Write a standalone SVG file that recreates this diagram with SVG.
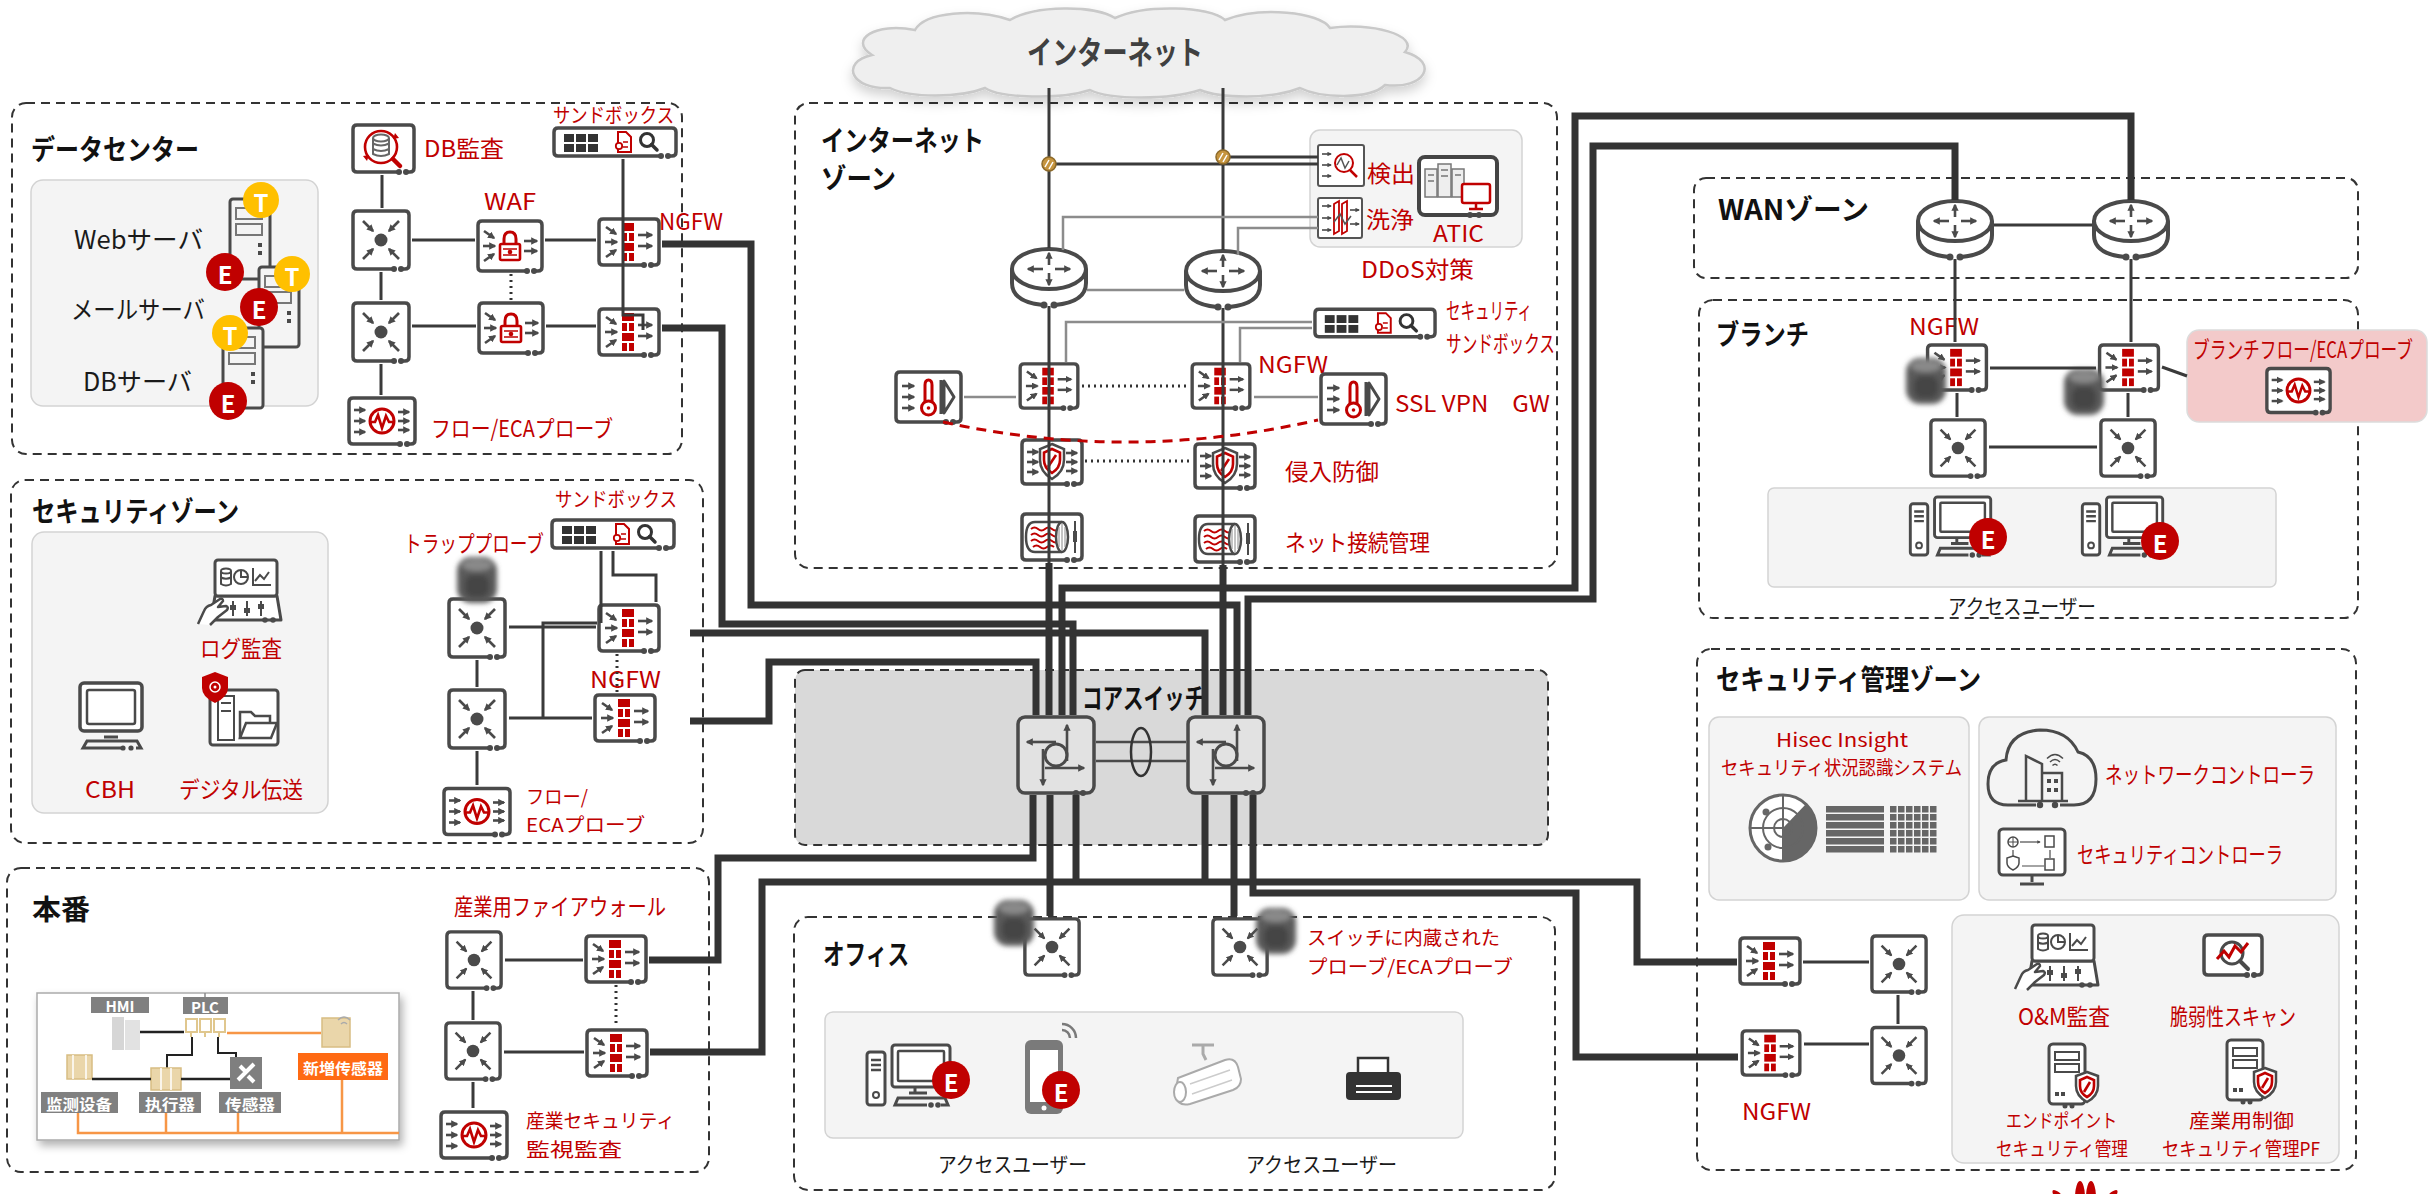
<svg xmlns="http://www.w3.org/2000/svg" width="2429" height="1194" viewBox="0 0 2429 1194">
<style>
text{font-family:'Noto Sans CJK JP','Noto Sans',sans-serif;dominant-baseline:central}
.zone{fill:none;stroke:#333;stroke-width:2;stroke-dasharray:9 6}
.gbox{fill:#f4f4f4;stroke:#d3d3d3;stroke-width:1.5}
.ttl{font-weight:bold;fill:#111;font-size:28px}
.lbl{fill:#c00000;font-size:23px}
.sm{font-size:20px}
.two{font-size:19px}
.blk{fill:#1a1a1a;font-size:25px}
.usr{fill:#1a1a1a;font-size:21px}
.bx{fill:#fff;stroke:#4a4a4a;stroke-width:3.5;stroke-linejoin:round;stroke-linecap:round}
.dt{fill:#4a4a4a}
.arr{fill:none;stroke:#4a4a4a;stroke-width:2.6;marker-end:url(#ah)}
.arrs{fill:none;stroke:#4a4a4a;stroke-width:1.6;marker-end:url(#ah)}
.rl{fill:none;stroke:#c00000;stroke-width:2.6}
.gl{fill:none;stroke:#4a4a4a;stroke-width:2.5}
.thick{fill:none;stroke:#333;stroke-width:7}
.thin{fill:none;stroke:#3a3a3a;stroke-width:3}
.grey{fill:none;stroke:#8c8c8c;stroke-width:2.5}
.dotl{fill:none;stroke:#333;stroke-width:3;stroke-dasharray:2 4}
.tag{fill:#808080}
.tagt{fill:#fff;font-weight:bold;font-size:15px;font-family:'Noto Sans CJK SC','Noto Sans CJK JP',sans-serif}
.or{fill:none;stroke:#f79646;stroke-width:2.5}
.tan{fill:#ead6aa;stroke:#d8bd83;stroke-width:1.5}
</style>
<defs>
  <marker id="ah" viewBox="0 0 10 10" refX="8" refY="5" markerWidth="2.8" markerHeight="2.8" orient="auto"><path d="M0 0 L10 5 L0 10 z" fill="#4a4a4a"/></marker>
  <filter id="blur" x="-60%" y="-60%" width="220%" height="220%"><feGaussianBlur stdDeviation="2.6"/></filter>
  <filter id="shadow" x="-10%" y="-10%" width="125%" height="130%"><feDropShadow dx="3" dy="5" stdDeviation="4" flood-color="#000" flood-opacity="0.3"/></filter>
  <filter id="cloudsh" x="-10%" y="-20%" width="120%" height="160%"><feDropShadow dx="0" dy="6" stdDeviation="6" flood-color="#000" flood-opacity="0.18"/></filter>
  <pattern id="grid" x="1890" y="806" width="8" height="8" patternUnits="userSpaceOnUse"><rect width="6.5" height="6.5" fill="#666"/></pattern>
  <pattern id="bars" x="1826" y="806" width="60" height="8" patternUnits="userSpaceOnUse"><rect width="58" height="6.5" fill="#666"/></pattern>

  <!-- badges -->
  <g id="eb"><circle r="19" fill="#c00000"/><text y="1" text-anchor="middle" font-family="Liberation Sans" font-weight="bold" font-size="24" fill="#fff">E</text></g>
  <g id="tb"><circle r="18" fill="#ffc000"/><text y="1" text-anchor="middle" font-family="Liberation Sans" font-weight="bold" font-size="24" fill="#fff">T</text></g>
  <!-- blurred probe attached to a device -->
  <g id="bp" filter="url(#blur)"><rect x="-20" y="-23" width="40" height="46" rx="14" fill="#5a5a5a"/><ellipse cx="0" cy="-15" rx="15" ry="6" fill="#8a8a8a"/><rect x="-12" y="-5" width="24" height="22" rx="8" fill="#444"/></g>
  <!-- link marker on the internet uplinks -->
  <g id="lk"><circle r="7" fill="#c6953f" stroke="#8d6a2a" stroke-width="1.5"/><path d="M-4 3 L0 -4 M0 5 L4 -2" stroke="#fff" stroke-width="1.5"/></g>

  <!-- aggregation switch -->
  <symbol id="sw" viewBox="0 0 62 64" overflow="visible">
    <path class="bx" d="M42 61 H7 Q3 61 3 57 V7 Q3 3 7 3 H55 Q59 3 59 7 V57 Q59 61 55 61 H52"/>
    <circle cx="44" cy="61" r="3" class="dt"/><circle cx="51" cy="61" r="3" class="dt"/>
    <path class="arr" d="M13 13 L23 23"/><path class="arr" d="M49 13 L39 23"/>
    <path class="arr" d="M13 51 L23 41"/><path class="arr" d="M49 51 L39 41"/>
    <circle cx="31" cy="32" r="6.5" fill="#4a4a4a"/>
  </symbol>
  <!-- next generation firewall -->
  <symbol id="fw" viewBox="0 0 66 52" overflow="visible">
    <path class="bx" d="M46 49 H7 Q3 49 3 45 V7 Q3 3 7 3 H59 Q63 3 63 7 V45 Q63 49 59 49 H56"/>
    <circle cx="48" cy="49" r="3" class="dt"/><circle cx="55" cy="49" r="3" class="dt"/>
    <path class="arr" d="M10 11 L20 18"/><path class="arr" d="M9 26 H21"/><path class="arr" d="M10 41 L20 34"/>
    <g fill="#c00000"><rect x="26" y="7" width="12" height="8"/><rect x="26" y="17" width="5" height="8"/><rect x="33" y="17" width="5" height="8"/><rect x="26" y="27" width="12" height="8"/><rect x="26" y="37" width="5" height="8"/><rect x="33" y="37" width="5" height="8"/></g>
    <path class="arr" d="M42 19 H56"/><path class="arr" d="M42 30 H56"/>
  </symbol>
  <!-- web application firewall -->
  <symbol id="waf" viewBox="0 0 70 56" overflow="visible">
    <path class="bx" d="M50 53 H7 Q3 53 3 49 V7 Q3 3 7 3 H63 Q67 3 67 7 V49 Q67 53 63 53 H60"/>
    <circle cx="52" cy="53" r="3" class="dt"/><circle cx="59" cy="53" r="3" class="dt"/>
    <path class="arr" d="M9 13 L19 20"/><path class="arr" d="M8 28 H20"/><path class="arr" d="M9 43 L19 36"/>
    <path d="M29 27 V21 Q29 14 35 14 Q41 14 41 21 V27" fill="none" stroke="#c00000" stroke-width="3"/>
    <rect x="25" y="26" width="20" height="16" rx="1.5" fill="#fff" stroke="#c00000" stroke-width="2.6"/>
    <path d="M28 31 H42 M28 37 H42" stroke="#c00000" stroke-width="1.5"/><circle cx="35" cy="34" r="2.3" fill="#c00000"/>
    <path class="arr" d="M49 23 H62"/><path class="arr" d="M49 33 H62"/>
  </symbol>
  <!-- flow / ECA probe -->
  <symbol id="probe" viewBox="0 0 72 52" overflow="visible">
    <path class="bx" d="M52 49 H7 Q3 49 3 45 V7 Q3 3 7 3 H65 Q69 3 69 7 V45 Q69 49 65 49 H62"/>
    <circle cx="54" cy="49" r="3" class="dt"/><circle cx="61" cy="49" r="3" class="dt"/>
    <path class="arr" d="M8 15 H19"/><path class="arr" d="M8 26 H19"/><path class="arr" d="M8 37 H19"/>
    <circle cx="36" cy="26" r="12" fill="none" stroke="#c00000" stroke-width="3"/>
    <path d="M25 27 H29 L32 20 L36 33 L40 21 L43 27 H47" class="rl"/>
    <path class="arr" d="M52 17 H63"/><path class="arr" d="M52 26 H63"/><path class="arr" d="M52 35 H63"/>
  </symbol>
  <!-- intrusion prevention -->
  <symbol id="ips" viewBox="0 0 66 50" overflow="visible">
    <path class="bx" d="M46 47 H7 Q3 47 3 43 V7 Q3 3 7 3 H59 Q63 3 63 7 V43 Q63 47 59 47 H56"/>
    <circle cx="48" cy="47" r="3" class="dt"/><circle cx="55" cy="47" r="3" class="dt"/>
    <path class="arr" d="M8 15 H19"/><path class="arr" d="M8 25 H19"/><path class="arr" d="M8 35 H19"/>
    <path d="M33 7 L45 12 V23 Q45 35 33 42 Q21 35 21 23 V12 Z" fill="#fff" stroke="#4a4a4a" stroke-width="2.5"/>
    <path d="M33 12 L41 15.5 V23 Q41 31 33 36 Q25 31 25 23 V15.5 Z" class="rl"/>
    <path d="M29 30 L37 18" class="rl"/>
    <path class="arr" d="M47 16 H58"/><path class="arr" d="M47 25 H58"/><path class="arr" d="M47 34 H58"/>
  </symbol>
  <!-- network access management -->
  <symbol id="nac" viewBox="0 0 66 52" overflow="visible">
    <path class="bx" d="M46 49 H7 Q3 49 3 45 V7 Q3 3 7 3 H59 Q63 3 63 7 V45 Q63 49 59 49 H56"/>
    <circle cx="48" cy="49" r="3" class="dt"/><circle cx="55" cy="49" r="3" class="dt"/>
    <path d="M16 11 H43 M16 41 H43" stroke="#4a4a4a" stroke-width="2.5"/>
    <path d="M16 11 Q7 11 7 26 Q7 41 16 41" fill="none" stroke="#4a4a4a" stroke-width="2.5"/>
    <path d="M12 18 q3.5 -3 7 0 t7 0 t7 0 t7 0 M12 24 q3.5 -3 7 0 t7 0 t7 0 t7 0 M12 30 q3.5 -3 7 0 t7 0 t7 0 t7 0 M14 36 q3.5 -3 7 0 t7 0 t7 0" fill="none" stroke="#c00000" stroke-width="2"/>
    <ellipse cx="43" cy="26" rx="6" ry="15" fill="#fff" stroke="#4a4a4a" stroke-width="2.5"/>
    <path d="M40 16 V36 M43 13 V39 M46 16 V36" stroke="#888" stroke-width="1"/>
    <path d="M56 10 V42" stroke="#4a4a4a" stroke-width="2"/><rect x="54" y="20" width="4" height="11" fill="#4a4a4a"/>
  </symbol>
  <!-- SSL VPN gateway -->
  <symbol id="vpn" viewBox="0 0 71 56" overflow="visible">
    <path class="bx" d="M51 53 H7 Q3 53 3 49 V7 Q3 3 7 3 H64 Q68 3 68 7 V49 Q68 53 64 53 H61"/>
    <circle cx="53" cy="53" r="3" class="dt"/><circle cx="60" cy="53" r="3" class="dt"/>
    <path class="arr" d="M9 17 H21"/><path class="arr" d="M9 28 H21"/><path class="arr" d="M9 39 H21"/>
    <path d="M32 33 V16 Q32 11 35.5 11 Q39 11 39 16 V33" fill="none" stroke="#c00000" stroke-width="3"/>
    <circle cx="35.5" cy="39" r="7" fill="none" stroke="#c00000" stroke-width="3"/><circle cx="35.5" cy="39" r="1.8" fill="#c00000"/>
    <path d="M48 11 V45 M51 12 L61 28 L51 44 Z" fill="none" stroke="#4a4a4a" stroke-width="3" stroke-linejoin="round"/>
  </symbol>
  <!-- sandbox appliance -->
  <symbol id="sb" viewBox="0 0 128 34" overflow="visible">
    <path class="bx" d="M108 31 H7 Q3 31 3 27 V7 Q3 3 7 3 H121 Q125 3 125 7 V27 Q125 31 121 31 H119"/>
    <circle cx="110" cy="31" r="3" class="dt"/><circle cx="117" cy="31" r="3" class="dt"/>
    <g fill="#333"><rect x="13" y="9" width="10" height="8"/><rect x="25" y="9" width="10" height="8"/><rect x="37" y="9" width="10" height="8"/><rect x="13" y="19" width="10" height="8"/><rect x="25" y="19" width="10" height="8"/><rect x="37" y="19" width="10" height="8"/></g>
    <path d="M67 7 H75 L80 12 V27 H67 Z" fill="#fff" stroke="#c00000" stroke-width="2"/>
    <circle cx="68" cy="21" r="3.2" fill="#fff" stroke="#c00000" stroke-width="1.8"/>
    <path d="M72 17 H77 M72 22 H77" stroke="#c00000" stroke-width="1.6"/>
    <circle cx="96" cy="15" r="6.5" fill="none" stroke="#333" stroke-width="3"/>
    <path d="M100.5 19.5 L106 25" stroke="#333" stroke-width="3.5" stroke-linecap="round"/>
  </symbol>
  <!-- database audit -->
  <symbol id="dba" viewBox="0 0 67 53" overflow="visible">
    <path class="bx" d="M47 50 H7 Q3 50 3 46 V7 Q3 3 7 3 H60 Q64 3 64 7 V46 Q64 50 60 50 H57"/>
    <circle cx="49" cy="50" r="3" class="dt"/><circle cx="56" cy="50" r="3" class="dt"/>
    <circle cx="31" cy="25" r="16" fill="none" stroke="#c00000" stroke-width="2.6"/>
    <ellipse cx="31" cy="16" rx="8" ry="3.5" fill="#fff" stroke="#666" stroke-width="2"/>
    <path d="M23 16 V32 Q31 36 39 32 V16 M23 21.5 Q31 25.5 39 21.5 M23 27 Q31 31 39 27" fill="none" stroke="#666" stroke-width="2"/>
    <path d="M43 37 L50 44" stroke="#c00000" stroke-width="4.5" stroke-linecap="round"/>
    <path d="M13 34 l6 -1 l-2 6 z M49 16 l-6 1 l2 -6 z" fill="#c00000"/>
  </symbol>
  <!-- router -->
  <symbol id="rt" viewBox="0 0 78 62" overflow="visible">
    <path d="M2 23 V37 Q2 57 33 59 H45 Q76 57 76 37 V23 Z" fill="#fff"/>
    <path d="M2 23 V37 Q2 56 33 59 M45 59 Q76 56 76 37 V23" fill="none" stroke="#4a4a4a" stroke-width="4"/>
    <ellipse cx="39" cy="23" rx="37" ry="20" fill="#fff" stroke="#4a4a4a" stroke-width="4"/>
    <circle cx="34" cy="59" r="3.5" class="dt"/><circle cx="44" cy="59" r="3.5" class="dt"/>
    <path class="arr" d="M33 23 H18"/><path class="arr" d="M45 23 H60"/>
    <path class="arr" d="M39 19 V7"/><path class="arr" d="M39 27 V39"/>
  </symbol>
  <!-- core switch -->
  <symbol id="core" viewBox="0 0 80 80" overflow="visible">
    <rect x="2" y="2" width="76" height="76" rx="7" fill="#e2e2e2" stroke="#4a4a4a" stroke-width="3.5"/>
    <circle cx="60" cy="78" r="3" class="dt"/><circle cx="67" cy="78" r="3" class="dt"/>
    <circle cx="40" cy="40" r="11" fill="none" stroke="#4a4a4a" stroke-width="3"/>
    <path class="arr" d="M51 46 V10"/><path class="arr" d="M40 27 H11"/>
    <path class="arr" d="M29 53 H68"/><path class="arr" d="M27 34 V70"/>
  </symbol>
  <!-- desktop computer -->
  <symbol id="pc" viewBox="0 0 88 64" overflow="visible">
    <rect x="2" y="9" width="18" height="53" rx="3" fill="#fff" stroke="#4a4a4a" stroke-width="3"/>
    <path d="M6 17 H16 M6 22 H16 M6 27 H16" stroke="#4a4a4a" stroke-width="2.5"/>
    <circle cx="11" cy="52" r="3" fill="none" stroke="#4a4a4a" stroke-width="2"/>
    <rect x="27" y="2" width="58" height="42" rx="3" fill="#fff" stroke="#4a4a4a" stroke-width="3"/>
    <rect x="33" y="8" width="46" height="30" rx="1" fill="none" stroke="#4a4a4a" stroke-width="2.5"/>
    <path d="M50 44 V50 M44 50 H62" stroke="#4a4a4a" stroke-width="3"/>
    <path d="M62 62 H30 L33 55 H80 L83 62 H76" fill="none" stroke="#4a4a4a" stroke-width="3"/>
    <circle cx="66" cy="62" r="2.8" class="dt"/><circle cx="73" cy="62" r="2.8" class="dt"/>
  </symbol>
  <!-- tower server -->
  <symbol id="srv" viewBox="0 0 44 84" overflow="visible">
    <rect x="2" y="2" width="40" height="80" rx="3" fill="#f4f4f4" stroke="#4a4a4a" stroke-width="3"/>
    <rect x="8" y="11" width="26" height="11" fill="none" stroke="#777" stroke-width="2"/>
    <rect x="8" y="27" width="26" height="11" fill="none" stroke="#777" stroke-width="2"/>
    <rect x="30" y="46" width="4" height="4" fill="#4a4a4a"/><rect x="30" y="54" width="4" height="4" fill="#4a4a4a"/>
  </symbol>
  <!-- protected server -->
  <symbol id="esrv" viewBox="0 0 52 66" overflow="visible">
    <rect x="2" y="2" width="36" height="60" rx="4" fill="#fff" stroke="#4a4a4a" stroke-width="3"/>
    <rect x="8" y="10" width="24" height="8" fill="none" stroke="#4a4a4a" stroke-width="2"/>
    <rect x="8" y="22" width="24" height="8" fill="none" stroke="#4a4a4a" stroke-width="2"/>
    <rect x="8" y="50" width="4" height="4" class="dt"/><rect x="14" y="50" width="4" height="4" class="dt"/>
    <path d="M40 30 L51 34 V44 Q51 54 40 60 Q29 54 29 44 V34 Z" fill="#fff" stroke="#4a4a4a" stroke-width="2.5"/>
    <path d="M40 35 L47 38 V44 Q47 51 40 55 Q33 51 33 44 V38 Z" class="rl"/>
    <path d="M37 50 L43 40" class="rl"/>
    <circle cx="18" cy="64" r="2.5" class="dt"/><circle cx="25" cy="64" r="2.5" class="dt"/>
  </symbol>
  <!-- operations console -->
  <symbol id="om" viewBox="0 0 88 68" overflow="visible">
    <path d="M20 38 L16 62 H86 L82 38 Z" fill="#fff" stroke="#4a4a4a" stroke-width="3" stroke-linejoin="round"/>
    <rect x="20" y="2" width="62" height="36" rx="3" fill="#fff" stroke="#4a4a4a" stroke-width="3"/>
    <ellipse cx="31" cy="13" rx="5" ry="2.5" fill="none" stroke="#4a4a4a" stroke-width="2"/>
    <path d="M26 13 V26 Q31 29 36 26 V13 M26 19.5 Q31 22 36 19.5" fill="none" stroke="#4a4a4a" stroke-width="2"/>
    <circle cx="46" cy="19" r="7" fill="none" stroke="#4a4a4a" stroke-width="2"/><path d="M46 12 V19 H53" fill="none" stroke="#4a4a4a" stroke-width="2"/>
    <path d="M58 10 V27 H76 M60 23 L65 17 L69 21 L74 14" fill="none" stroke="#4a4a4a" stroke-width="2"/>
    <path d="M38 43 V58 M52 43 V58 M66 43 V58" stroke="#4a4a4a" stroke-width="2"/>
    <rect x="35" y="47" width="6" height="5" class="dt"/><rect x="49" y="50" width="6" height="5" class="dt"/><rect x="63" y="46" width="6" height="5" class="dt"/>
    <path d="M3 66 L9 53 Q11 48 16 47 L25 41 Q28 40 28 43 L23 49 L31 48 Q34 49 32 52 L23 59 L15 67" fill="#fff" stroke="#4a4a4a" stroke-width="2.5" stroke-linejoin="round"/>
    <circle cx="70" cy="62" r="2.8" class="dt"/><circle cx="78" cy="62" r="2.8" class="dt"/>
  </symbol>
  <!-- vulnerability scanner -->
  <symbol id="vs" viewBox="0 0 64 46" overflow="visible">
    <path class="bx" d="M44 43 H7 Q3 43 3 39 V7 Q3 3 7 3 H57 Q61 3 61 7 V39 Q61 43 57 43 H54"/>
    <circle cx="46" cy="43" r="3" class="dt"/><circle cx="53" cy="43" r="3" class="dt"/>
    <circle cx="31" cy="21" r="11" fill="none" stroke="#4a4a4a" stroke-width="3"/>
    <path d="M39 29 L47 37" stroke="#4a4a4a" stroke-width="4" stroke-linecap="round"/>
    <path d="M16 27 L23 19 L28 25 L34 14 L40 20 L47 11" fill="none" stroke="#c00000" stroke-width="3"/>
  </symbol>
</defs>

<!-- zones and backgrounds -->
<g id="zones">
  <rect class="zone" x="12" y="103" width="670" height="351" rx="14"/>
  <rect class="zone" x="11" y="480" width="692" height="363" rx="14"/>
  <rect class="zone" x="7" y="868" width="702" height="304" rx="14"/>
  <rect class="zone" x="795" y="103" width="762" height="465" rx="14"/>
  <rect x="795" y="670" width="753" height="175" rx="10" fill="#d9d9d9" stroke="#333" stroke-width="2" stroke-dasharray="9 6"/>
  <rect class="zone" x="794" y="917" width="761" height="273" rx="14"/>
  <rect class="zone" x="1694" y="178" width="664" height="100" rx="12"/>
  <rect class="zone" x="1699" y="300" width="659" height="318" rx="14"/>
  <rect class="zone" x="1697" y="649" width="659" height="521" rx="14"/>
  <text class="ttl" x="31" y="148" textLength="168" lengthAdjust="spacingAndGlyphs">データセンター</text>
  <text class="ttl" x="32" y="510" textLength="207" lengthAdjust="spacingAndGlyphs">セキュリティゾーン</text>
  <text class="ttl" x="32" y="908" textLength="58" lengthAdjust="spacingAndGlyphs">本番</text>
  <text class="ttl" x="821" y="139" font-size="25" textLength="163" lengthAdjust="spacingAndGlyphs">インターネット</text>
  <text class="ttl" x="821" y="177" font-size="25" textLength="75" lengthAdjust="spacingAndGlyphs">ゾーン</text>
  <text class="ttl" x="1082" y="697" font-size="26" textLength="123" lengthAdjust="spacingAndGlyphs">コアスイッチ</text>
  <text class="ttl" x="823" y="953" textLength="86" lengthAdjust="spacingAndGlyphs">オフィス</text>
  <text class="ttl" x="1718" y="208" textLength="151" lengthAdjust="spacingAndGlyphs">WANゾーン</text>
  <text class="ttl" x="1716" y="333" textLength="93" lengthAdjust="spacingAndGlyphs">ブランチ</text>
  <text class="ttl" x="1716" y="678" textLength="265" lengthAdjust="spacingAndGlyphs">セキュリティ管理ゾーン</text>
</g>

<!-- internet cloud -->
<g id="internet">
  <path filter="url(#cloudsh)" d="M890 88 C850 90 840 62 872 55 C848 40 875 22 915 30 C925 12 975 8 1010 20 C1035 5 1095 5 1115 18 C1145 4 1210 6 1225 20 C1260 6 1320 12 1330 28 C1370 22 1420 35 1405 52 C1440 62 1425 90 1385 85 C1370 100 1320 98 1300 88 C1270 100 1220 98 1200 90 C1170 100 1110 100 1090 90 C1060 100 1000 98 985 88 C960 98 910 98 890 88 Z" fill="#efefef" stroke="#c9c9c9" stroke-width="2.5"/>
  <text x="1027" y="50" font-size="32" font-weight="bold" fill="#404040" textLength="176" lengthAdjust="spacingAndGlyphs">インターネット</text>
</g>

<!-- data center -->
<g id="datacenter-servers">
  <rect class="gbox" x="31" y="180" width="287" height="226" rx="12"/>
  <text class="blk" x="74" y="238" textLength="129" lengthAdjust="spacingAndGlyphs">Webサーバ</text>
  <text class="blk" x="71" y="308" textLength="134" lengthAdjust="spacingAndGlyphs">メールサーバ</text>
  <text class="blk" x="83" y="380" textLength="109" lengthAdjust="spacingAndGlyphs">DBサーバ</text>
  <use href="#srv" x="228" y="197" width="44" height="84"/>
  <use href="#srv" x="257" y="265" width="44" height="84"/>
  <use href="#srv" x="221" y="326" width="44" height="84"/>
  <use href="#tb" x="261" y="200"/>
  <use href="#eb" x="225" y="272"/>
  <use href="#tb" x="292" y="274"/>
  <use href="#eb" x="259" y="307"/>
  <use href="#tb" x="230" y="333"/>
  <use href="#eb" x="228" y="401"/>
</g>
<g id="dc-dbaudit"><use href="#dba" x="350" y="122" width="67" height="53"/><text class="lbl" x="424" y="147" textLength="80" lengthAdjust="spacingAndGlyphs">DB監査</text></g>
<g id="dc-sandbox"><text class="lbl sm" x="553" y="114" textLength="121" lengthAdjust="spacingAndGlyphs">サンドボックス</text><use href="#sb" x="551" y="125" width="128" height="34"/></g>
<g id="dc-sw1"><use href="#sw" x="350" y="208" width="62" height="64"/></g>
<g id="dc-sw2"><use href="#sw" x="350" y="300" width="62" height="64"/></g>
<g id="dc-waf1"><use href="#waf" x="475" y="218" width="70" height="56"/><text class="lbl" x="484" y="200" textLength="52" lengthAdjust="spacingAndGlyphs">WAF</text></g>
<g id="dc-waf2"><use href="#waf" x="476" y="300" width="70" height="56"/></g>
<g id="dc-ngfw1"><use href="#fw" x="596" y="216" width="66" height="52"/><text class="lbl" x="659" y="220" textLength="64" lengthAdjust="spacingAndGlyphs">NGFW</text></g>
<g id="dc-ngfw2"><use href="#fw" x="596" y="306" width="66" height="52"/></g>
<g id="dc-probe"><use href="#probe" x="346" y="395" width="72" height="52"/><text class="lbl" x="431" y="427" textLength="182" lengthAdjust="spacingAndGlyphs">フロー/ECAプローブ</text></g>

<!-- security zone -->
<g id="sec-tools">
  <rect class="gbox" x="32" y="532" width="296" height="281" rx="12"/>
  <use href="#om" x="195" y="558" width="88" height="68"/>
  <text class="lbl" x="200" y="647" textLength="82" lengthAdjust="spacingAndGlyphs">ログ監査</text>
  <rect x="80" y="683" width="62" height="48" rx="4" fill="#fff" stroke="#4a4a4a" stroke-width="3.5"/>
  <rect x="87" y="690" width="48" height="34" rx="2" fill="none" stroke="#4a4a4a" stroke-width="2.5"/>
  <path d="M104 737 H118" stroke="#4a4a4a" stroke-width="3"/>
  <path d="M121 748 H83 L87 741 H137 L141 748 H136" fill="none" stroke="#4a4a4a" stroke-width="3"/>
  <circle cx="123" cy="748" r="2.6" class="dt"/><circle cx="131" cy="748" r="2.6" class="dt"/>
  <text class="lbl" x="85" y="788" textLength="50" lengthAdjust="spacingAndGlyphs">CBH</text>
  <rect x="210" y="690" width="68" height="55" rx="3" fill="#fff" stroke="#4a4a4a" stroke-width="3"/>
  <rect x="218" y="696" width="16" height="44" fill="none" stroke="#4a4a4a" stroke-width="2"/>
  <path d="M221 703 H231 M221 711 H231" stroke="#4a4a4a" stroke-width="2"/>
  <path d="M240 738 V712 H251 L255 716 H270 V722" fill="#fff" stroke="#4a4a4a" stroke-width="2.5"/>
  <path d="M240 738 L246 723 H277 L271 738 Z" fill="#fff" stroke="#4a4a4a" stroke-width="2.5"/>
  <path d="M215 672 L228 677 V688 Q228 697 215 703 Q202 697 202 688 V677 Z" fill="#c00000"/>
  <circle cx="215" cy="687" r="5" fill="none" stroke="#fff" stroke-width="1.5"/><circle cx="215" cy="687" r="1.5" fill="#fff"/>
  <text class="lbl" x="179" y="788" textLength="124" lengthAdjust="spacingAndGlyphs">デジタル伝送</text>
</g>
<g id="sec-sandbox"><text class="lbl sm" x="555" y="498" textLength="122" lengthAdjust="spacingAndGlyphs">サンドボックス</text><use href="#sb" x="549" y="517" width="128" height="34"/></g>
<g id="sec-sw1"><use href="#sw" x="445" y="596" width="64" height="64"/><use href="#bp" x="477" y="580"/><text class="lbl" x="404" y="542" textLength="140" lengthAdjust="spacingAndGlyphs">トラッププローブ</text></g>
<g id="sec-sw2"><use href="#sw" x="445" y="687" width="64" height="64"/></g>
<g id="sec-ngfw1"><use href="#fw" x="596" y="602" width="66" height="52"/></g>
<g id="sec-ngfw2"><use href="#fw" x="592" y="692" width="66" height="52"/><text class="lbl" x="590" y="678" textLength="71" lengthAdjust="spacingAndGlyphs">NGFW</text></g>
<g id="sec-probe"><use href="#probe" x="441" y="785" width="72" height="53"/><text class="lbl two" x="526" y="795" textLength="62" lengthAdjust="spacingAndGlyphs">フロー/</text><text class="lbl two" x="526" y="823" textLength="119" lengthAdjust="spacingAndGlyphs">ECAプローブ</text></g>

<!-- production (industrial) -->
<g id="prod-plant">
  <rect x="37" y="993" width="362" height="147" fill="#fff" stroke="#aaa" stroke-width="1.5" filter="url(#shadow)"/>
  <rect class="tag" x="91" y="997" width="58" height="16"/><text class="tagt" x="120" y="1005" text-anchor="middle">HMI</text>
  <rect class="tag" x="183" y="997" width="45" height="17"/><text class="tagt" x="205" y="1006" text-anchor="middle">PLC</text>
  <path d="M205 993 V997" stroke="#888" stroke-width="1.5"/>
  <rect x="112" y="1017" width="12" height="33" fill="#d6d6d6"/><rect x="125" y="1020" width="15" height="30" fill="#e2e2e2"/>
  <path d="M140 1032 H184" stroke="#222" stroke-width="2.5"/>
  <g fill="none" stroke="#e0c78e" stroke-width="2"><rect x="186" y="1019" width="11" height="13"/><rect x="200" y="1019" width="11" height="13"/><rect x="214" y="1019" width="11" height="13"/><path d="M191 1032 V1037 M205 1032 V1037 M219 1032 V1037"/></g>
  <path class="or" d="M227 1033 H321"/>
  <rect class="tan" x="322" y="1018" width="28" height="29"/>
  <path d="M338 1020 q6 -6 12 0 M341 1024 q3 -3 6 0" fill="none" stroke="#aaa" stroke-width="1.5"/>
  <path d="M192 1037 V1055 H167 V1068 M218 1037 V1053 H236 V1058" fill="none" stroke="#222" stroke-width="2"/>
  <rect class="tan" x="67" y="1055" width="25" height="24"/><path d="M73 1055 V1079 M86 1055 V1079" stroke="#fff" stroke-width="1.5"/>
  <rect class="tan" x="151" y="1068" width="30" height="22"/><path d="M161 1068 V1090 M171 1068 V1090" stroke="#fff" stroke-width="1.5"/>
  <rect x="230" y="1057" width="32" height="32" fill="#7f7f7f"/>
  <path d="M238 1080 L254 1064 M240 1066 L246 1072 M248 1076 L254 1082" stroke="#fff" stroke-width="4"/>
  <path d="M92 1079 H151 M181 1079 H230" stroke="#222" stroke-width="2.5"/>
  <rect x="298" y="1053" width="90" height="27" fill="#ff6a13"/><text class="tagt" x="343" y="1067" text-anchor="middle" font-size="17" textLength="80" lengthAdjust="spacingAndGlyphs">新増传感器</text>
  <rect class="tag" x="41" y="1092" width="77" height="21"/><text class="tagt" x="79" y="1103" text-anchor="middle" font-size="16" textLength="66" lengthAdjust="spacingAndGlyphs">监测设备</text>
  <rect class="tag" x="139" y="1092" width="62" height="21"/><text class="tagt" x="170" y="1103" text-anchor="middle" font-size="16" textLength="50" lengthAdjust="spacingAndGlyphs">执行器</text>
  <rect class="tag" x="219" y="1092" width="62" height="21"/><text class="tagt" x="250" y="1103" text-anchor="middle" font-size="16" textLength="50" lengthAdjust="spacingAndGlyphs">传感器</text>
  <path class="or" d="M78 1113 V1133 H399 M166 1113 V1133 M238 1113 V1133 M342 1080 V1133"/>
</g>
<g id="prod-sw1"><use href="#sw" x="443" y="929" width="62" height="62"/><text class="lbl" x="454" y="905" textLength="212" lengthAdjust="spacingAndGlyphs">産業用ファイアウォール</text></g>
<g id="prod-ngfw1"><use href="#fw" x="583" y="933" width="66" height="52"/></g>
<g id="prod-sw2"><use href="#sw" x="442" y="1020" width="62" height="62"/></g>
<g id="prod-ngfw2"><use href="#fw" x="584" y="1027" width="66" height="52"/></g>
<g id="prod-probe"><use href="#probe" x="438" y="1108" width="72" height="54"/><text class="lbl two" x="526" y="1119" textLength="149" lengthAdjust="spacingAndGlyphs">産業セキュリティ</text><text class="lbl two" x="526" y="1148" textLength="96" lengthAdjust="spacingAndGlyphs">監視監査</text></g>

<!-- internet zone -->
<g id="ddos">
  <rect class="gbox" x="1310" y="130" width="212" height="117" rx="10"/>
  <rect x="1318" y="145" width="46" height="41" rx="2" fill="#fff" stroke="#555" stroke-width="2"/>
  <path class="arrs" d="M1322 154 H1331"/><path class="arrs" d="M1322 165 H1331"/><path class="arrs" d="M1322 176 H1331"/>
  <circle cx="1344" cy="163" r="9" fill="none" stroke="#c00000" stroke-width="2"/>
  <path d="M1337 165 L1341 158 L1345 168 L1349 161" fill="none" stroke="#555" stroke-width="1.5"/>
  <path d="M1350 170 L1357 177" stroke="#c00000" stroke-width="2.5"/>
  <text class="lbl" x="1367" y="172" textLength="48" lengthAdjust="spacingAndGlyphs">検出</text>
  <rect x="1318" y="198" width="44" height="40" rx="2" fill="#fff" stroke="#555" stroke-width="2"/>
  <path class="arrs" d="M1322 206 H1331"/><path class="arrs" d="M1322 218 H1331"/><path class="arrs" d="M1322 230 H1331"/>
  <path d="M1334 204 L1339 201 V231 L1334 234 Z M1342 204 L1347 201 V231 L1342 234 Z" fill="#fff" stroke="#c00000" stroke-width="1.8"/>
  <path d="M1334 222 L1340 214 L1345 224 L1351 216" fill="none" stroke="#555" stroke-width="1.5"/>
  <path class="arrs" d="M1350 210 H1359"/><path class="arrs" d="M1350 224 H1359"/>
  <text class="lbl" x="1366" y="218" textLength="48" lengthAdjust="spacingAndGlyphs">洗浄</text>
  <rect x="1419" y="157" width="78" height="58" rx="6" fill="#fff" stroke="#444" stroke-width="4"/>
  <g fill="#eee" stroke="#777" stroke-width="1.5"><rect x="1425" y="169" width="12" height="28"/><rect x="1438" y="164" width="13" height="33"/><rect x="1452" y="169" width="12" height="28"/></g>
  <path d="M1428 175 H1434 M1428 181 H1434 M1441 170 H1448 M1441 176 H1448 M1455 175 H1461" stroke="#777" stroke-width="1.5"/>
  <rect x="1462" y="184" width="28" height="19" rx="2" fill="#fff" stroke="#c00000" stroke-width="2.5"/>
  <path d="M1476 203 V208 M1469 209 H1483" stroke="#c00000" stroke-width="2.5"/>
  <circle cx="1470" cy="215" r="3" class="dt"/><circle cx="1479" cy="215" r="3" class="dt"/>
  <text class="lbl" x="1433" y="232" font-size="22" textLength="51" lengthAdjust="spacingAndGlyphs">ATIC</text>
  <text class="lbl" x="1361" y="268" font-size="22" textLength="113" lengthAdjust="spacingAndGlyphs">DDoS対策</text>
</g>
<g id="inet-r1"><use href="#rt" x="1010" y="246" width="78" height="62"/></g>
<g id="inet-r2"><use href="#rt" x="1184" y="248" width="78" height="62"/></g>
<g id="inet-sandbox"><use href="#sb" x="1312" y="306" width="126" height="34"/><text class="lbl" font-size="17" x="1446" y="309" textLength="86" lengthAdjust="spacingAndGlyphs">セキュリティ</text><text class="lbl" font-size="17" x="1446" y="342" textLength="109" lengthAdjust="spacingAndGlyphs">サンドボックス</text></g>
<g id="inet-ngfw1"><use href="#fw" x="1016" y="361" width="66" height="50"/></g>
<g id="inet-ngfw2"><use href="#fw" x="1188" y="361" width="66" height="50"/><text class="lbl" x="1258" y="363" textLength="70" lengthAdjust="spacingAndGlyphs">NGFW</text></g>
<g id="inet-vpn1"><use href="#vpn" x="893" y="369" width="71" height="56"/></g>
<g id="inet-vpn2"><use href="#vpn" x="1318" y="371" width="71" height="56"/><text class="lbl" x="1395" y="402" textLength="155" lengthAdjust="spacingAndGlyphs">SSL VPN　GW</text></g>
<g id="inet-ips1"><use href="#ips" x="1019" y="437" width="66" height="50"/></g>
<g id="inet-ips2"><use href="#ips" x="1192" y="441" width="66" height="50"/><text class="lbl" x="1285" y="470" textLength="94" lengthAdjust="spacingAndGlyphs">侵入防御</text></g>
<g id="inet-nac1"><use href="#nac" x="1019" y="511" width="66" height="52"/></g>
<g id="inet-nac2"><use href="#nac" x="1192" y="513" width="66" height="52"/><text class="lbl" x="1285" y="541" textLength="145" lengthAdjust="spacingAndGlyphs">ネット接続管理</text></g>

<!-- core -->
<g id="core-sw1"><use href="#core" x="1016" y="715" width="80" height="80"/></g>
<g id="core-sw2"><use href="#core" x="1186" y="715" width="80" height="80"/></g>

<!-- office -->
<g id="office-sw1"><use href="#sw" x="1021" y="916" width="62" height="62"/><use href="#bp" x="1014" y="923"/></g>
<g id="office-sw2"><use href="#sw" x="1209" y="916" width="62" height="62"/><use href="#bp" x="1276" y="931"/><text class="lbl two" x="1307" y="936" textLength="193" lengthAdjust="spacingAndGlyphs">スイッチに内蔵された</text><text class="lbl two" x="1307" y="965" textLength="206" lengthAdjust="spacingAndGlyphs">プローブ/ECAプローブ</text></g>
<g id="office-users">
  <rect class="gbox" x="825" y="1012" width="638" height="126" rx="8"/>
  <use href="#pc" x="865" y="1043" width="88" height="64"/>
  <use href="#eb" x="951" y="1080"/>
  <rect x="1025" y="1040" width="38" height="74" rx="6" fill="#7a7a7a"/>
  <rect x="1030" y="1050" width="28" height="52" fill="#fff"/>
  <circle cx="1044" cy="1108" r="2.5" fill="#fff"/>
  <path d="M1062 1030 a8 8 0 0 1 8 8 M1062 1024 a14 14 0 0 1 14 14" fill="none" stroke="#7a7a7a" stroke-width="2.5"/>
  <use href="#eb" x="1061" y="1090"/>
  <path d="M1192 1045 H1214 M1203 1045 V1054 L1206 1060" fill="none" stroke="#aaa" stroke-width="3"/>
  <path d="M1178 1078 L1225 1060 Q1235 1057 1238 1067 L1241 1079 Q1241 1087 1233 1090 L1190 1104 Q1178 1107 1175 1095 Z" fill="#fff" stroke="#aaa" stroke-width="2"/>
  <ellipse cx="1180" cy="1092" rx="6" ry="10" fill="#fff" stroke="#aaa" stroke-width="2"/>
  <path d="M1190 1084 L1230 1070 M1192 1094 L1232 1080" stroke="#ccc" stroke-width="1.5"/>
  <rect x="1358" y="1058" width="30" height="18" fill="#fff" stroke="#333" stroke-width="2.5"/>
  <rect x="1346" y="1072" width="55" height="28" rx="4" fill="#333"/>
  <path d="M1356 1086 H1392 M1356 1092 H1392" stroke="#fff" stroke-width="2"/>
  <text class="usr" x="938" y="1163" textLength="149" lengthAdjust="spacingAndGlyphs">アクセスユーザー</text>
  <text class="usr" x="1246" y="1163" textLength="151" lengthAdjust="spacingAndGlyphs">アクセスユーザー</text>
</g>

<!-- WAN and branch -->
<g id="wan-r1"><use href="#rt" x="1916" y="198" width="78" height="62"/></g>
<g id="wan-r2"><use href="#rt" x="2092" y="198" width="78" height="62"/></g>
<g id="br-ngfw1"><use href="#fw" x="1924" y="342" width="66" height="51"/><use href="#bp" x="1926" y="381"/><text class="lbl" x="1909" y="325" textLength="70" lengthAdjust="spacingAndGlyphs">NGFW</text></g>
<g id="br-ngfw2"><use href="#fw" x="2096" y="342" width="66" height="51"/><use href="#bp" x="2084" y="392"/></g>
<g id="br-sw1"><use href="#sw" x="1927" y="417" width="62" height="62"/></g>
<g id="br-sw2"><use href="#sw" x="2097" y="417" width="62" height="62"/></g>
<g id="br-probe">
  <rect x="2187" y="330" width="240" height="92" rx="12" fill="#f3caca" stroke="#dcdcdc" stroke-width="1.5"/>
  <text class="lbl" font-size="16" x="2193" y="348" textLength="220" lengthAdjust="spacingAndGlyphs">ブランチフロー/ECAプローブ</text>
  <use href="#probe" x="2264" y="365" width="69" height="51"/>
</g>
<g id="br-users">
  <rect class="gbox" x="1768" y="488" width="508" height="99" rx="6"/>
  <use href="#pc" x="1907" y="495" width="88" height="62"/><use href="#eb" x="1988" y="537"/>
  <use href="#pc" x="2079" y="495" width="88" height="62"/><use href="#eb" x="2160" y="541"/>
  <text class="usr" x="1948" y="605" textLength="148" lengthAdjust="spacingAndGlyphs">アクセスユーザー</text>
</g>

<!-- security management -->
<g id="hisec">
  <rect class="gbox" x="1709" y="717" width="260" height="183" rx="10"/>
  <text class="lbl two" x="1776" y="738" font-size="20" textLength="132" lengthAdjust="spacingAndGlyphs">Hisec Insight</text>
  <text class="lbl two" x="1721" y="766" textLength="241" lengthAdjust="spacingAndGlyphs">セキュリティ状況認識システム</text>
  <circle cx="1783" cy="828" r="33" fill="#fff" stroke="#666" stroke-width="3"/>
  <path d="M1783 828 L1806 804 A33 33 0 0 1 1783 861 Z" fill="#666"/>
  <circle cx="1783" cy="828" r="20" fill="none" stroke="#666" stroke-width="2"/>
  <circle cx="1783" cy="828" r="9" fill="none" stroke="#666" stroke-width="2"/>
  <path d="M1750 828 H1816 M1783 795 V861" stroke="#666" stroke-width="2"/>
  <circle cx="1766" cy="812" r="3.5" fill="#666"/><circle cx="1768" cy="847" r="3.5" fill="#666"/>
  <rect x="1826" y="806" width="58" height="47" fill="url(#bars)"/>
  <rect x="1890" y="806" width="48" height="47" fill="url(#grid)"/>
</g>
<g id="controllers">
  <rect class="gbox" x="1979" y="717" width="357" height="183" rx="10"/>
  <path d="M2036 805 H2008 Q1988 805 1988 784 Q1988 763 2006 760 Q2008 732 2040 730 Q2068 730 2078 752 Q2096 756 2096 779 Q2096 805 2074 805 H2060" fill="none" stroke="#4a4a4a" stroke-width="3"/>
  <circle cx="2040" cy="805" r="3.2" class="dt"/><circle cx="2055" cy="805" r="3.2" class="dt"/>
  <path d="M2026 801 V756 L2042 764 V801 M2042 773 H2062 V801 M2018 801 H2068" fill="none" stroke="#4a4a4a" stroke-width="2.5"/>
  <g fill="#4a4a4a"><rect x="2047" y="779" width="4" height="4"/><rect x="2054" y="779" width="4" height="4"/><rect x="2047" y="788" width="4" height="4"/><rect x="2054" y="788" width="4" height="4"/></g>
  <path d="M2050 762 q5 -5 10 0 M2052.5 765.5 q2.5 -2.5 5 0 M2047 758.5 q8 -8 16 0" fill="none" stroke="#4a4a4a" stroke-width="1.5"/>
  <text class="lbl" x="2105" y="773" textLength="210" lengthAdjust="spacingAndGlyphs">ネットワークコントローラ</text>
  <rect x="1999" y="829" width="66" height="46" rx="4" fill="#fff" stroke="#4a4a4a" stroke-width="3"/>
  <path d="M2032 875 V882 M2020 884 H2044" stroke="#4a4a4a" stroke-width="3"/>
  <circle cx="2013" cy="842" r="5" fill="none" stroke="#4a4a4a" stroke-width="1.5"/><path d="M2008 842 H2018 M2013 837 V847" stroke="#4a4a4a" stroke-width="1"/>
  <path d="M2020 842 H2040" stroke="#4a4a4a" stroke-width="1.2" marker-end="url(#ah)"/>
  <rect x="2045" y="836" width="9" height="11" fill="none" stroke="#4a4a4a" stroke-width="1.5"/>
  <path d="M2050 850 V858 M2044 866 H2022 M2013 856 V850" stroke="#4a4a4a" stroke-width="1.2"/>
  <path d="M2013 856 L2019 858 V863 Q2019 867 2013 870 Q2007 867 2007 863 V858 Z" fill="#fff" stroke="#4a4a4a" stroke-width="1.5"/>
  <rect x="2045" y="859" width="9" height="11" fill="none" stroke="#4a4a4a" stroke-width="1.5"/>
  <text class="lbl" x="2077" y="853" textLength="206" lengthAdjust="spacingAndGlyphs">セキュリティコントローラ</text>
</g>
<g id="sm-ngfw1"><use href="#fw" x="1737" y="935" width="66" height="52"/></g>
<g id="sm-ngfw2"><use href="#fw" x="1738" y="1028" width="66" height="50"/><text class="lbl" x="1742" y="1110" textLength="69" lengthAdjust="spacingAndGlyphs">NGFW</text></g>
<g id="sm-sw1"><use href="#sw" x="1869" y="933" width="60" height="62"/></g>
<g id="sm-sw2"><use href="#sw" x="1869" y="1024" width="60" height="63"/></g>
<g id="sm-tools">
  <rect class="gbox" x="1952" y="915" width="387" height="248" rx="12"/>
  <use href="#om" x="2012" y="923" width="88" height="68"/>
  <text class="lbl" x="2018" y="1015" textLength="92" lengthAdjust="spacingAndGlyphs">O&amp;M監査</text>
  <use href="#vs" x="2201" y="932" width="64" height="46"/>
  <text class="lbl" x="2170" y="1015" textLength="126" lengthAdjust="spacingAndGlyphs">脆弱性スキャン</text>
  <use href="#esrv" x="2047" y="1042" width="52" height="66"/>
  <text class="lbl two" x="2006" y="1119" textLength="111" lengthAdjust="spacingAndGlyphs">エンドポイント</text>
  <text class="lbl two" x="1996" y="1147" textLength="132" lengthAdjust="spacingAndGlyphs">セキュリティ管理</text>
  <use href="#esrv" x="2225" y="1038" width="52" height="66"/>
  <text class="lbl two" x="2189" y="1119" textLength="105" lengthAdjust="spacingAndGlyphs">産業用制御</text>
  <text class="lbl two" x="2162" y="1147" textLength="158" lengthAdjust="spacingAndGlyphs">セキュリティ管理PF</text>
</g>
<g id="logo" fill="#c00000">
  <ellipse cx="2080" cy="1198" rx="5" ry="17"/>
  <ellipse cx="2091" cy="1198" rx="5" ry="17"/>
  <ellipse cx="2062" cy="1201" rx="4" ry="14" transform="rotate(-40 2062 1201)"/>
  <ellipse cx="2108" cy="1201" rx="4" ry="14" transform="rotate(40 2108 1201)"/>
</g>

<!-- connectors -->
<g id="connectors">
  <!-- data center -->
  <path class="thin" d="M382 175 V208 M381 272 V300 M381 364 V395 M412 240 H475 M545 240 H596 M412 326 H476 M546 326 H596 M623 159 V315 H643 V330"/>
  <path class="dotl" d="M511 274 V300"/>
  <!-- security zone -->
  <path class="thin" d="M509 627 H596 M509 718 H592 M543 718 V623 H597 M601 551 V623 M613 551 V575 H656 V602 M477 660 V687 M477 751 V785"/>
  <path class="dotl" d="M617 654 V692"/>
  <!-- production -->
  <path class="thin" d="M505 960 H583 M504 1052 H584 M473 991 V1020 M473 1082 V1108"/>
  <path class="dotl" d="M616 985 V1027"/>
  <!-- internet zone -->
  <path class="thin" d="M1049 88 V248 M1223 88 V250 M1049 306 V563 M1223 308 V565 M1049 164 H1318 M1223 157 H1318"/>
  <path class="grey" d="M1063 250 V217 H1318 M1238 255 V228 H1318 M1087 290 H1184 M1066 362 V322 H1312 M1240 362 V328 H1312 M964 397 H1016 M1254 397 H1318"/>
  <path class="dotl" d="M1082 386 H1188 M1085 461 H1192"/>
  <path d="M943 422 Q1130 463 1318 420" fill="none" stroke="#c00000" stroke-width="3" stroke-dasharray="10 7"/>
  <use href="#lk" x="1049" y="164"/><use href="#lk" x="1223" y="157"/>
  <!-- core links -->
  <path class="gl" d="M1096 742 H1186 M1096 761 H1186" stroke-width="3"/>
  <ellipse cx="1141" cy="752" rx="10" ry="24" fill="none" stroke="#333" stroke-width="2.5"/>
  <!-- uplinks into the core -->
  <path class="thick" d="M662 244 H751 V605 H1237 V715"/>
  <path class="thick" d="M662 328 H722 V624 H1073 V715"/>
  <path class="thick" d="M690 633 H1205 V715"/>
  <path class="thick" d="M690 721 H769 V662 H1036 V715"/>
  <path class="thick" d="M1049 563 V715 M1223 565 V715"/>
  <path class="thick" d="M1062 715 V588 H1575 V116 H2131 V200"/>
  <path class="thick" d="M1248 715 V599 H1593 V146 H1955 V200"/>
  <!-- downlinks from the core -->
  <path class="thick" d="M1033 795 V858 H718 V960 H649"/>
  <path class="thick" d="M650 1052 H762 V882 H1637 V962 H1737"/>
  <path class="thick" d="M1076 795 V882 M1205 795 V882"/>
  <path class="thick" d="M1253 795 V893 H1576 V1057 H1738"/>
  <path class="thick" d="M1050 795 V916 M1234 795 V916"/>
  <!-- WAN / branch -->
  <path class="thin" d="M1994 225 H2092 M1955 259 V342 M2131 259 V342 M1990 368 H2096 M1957 393 V417 M2128 393 V417 M1989 447 H2097 M2162 367 L2187 376"/>
  <!-- security management -->
  <path class="thin" d="M1803 962 H1869 M1804 1044 H1869 M1898 995 V1024"/>
</g>
</svg>
